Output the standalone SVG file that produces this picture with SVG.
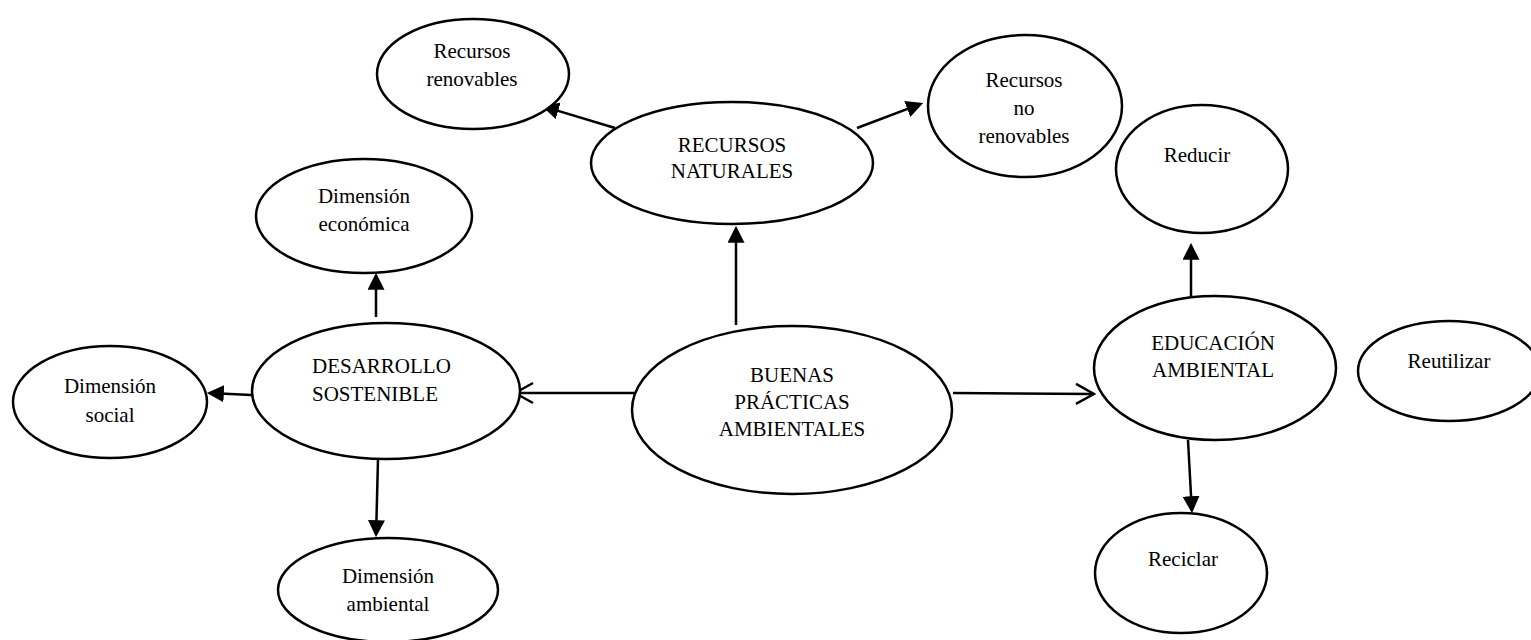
<svg xmlns="http://www.w3.org/2000/svg" width="1531" height="640" viewBox="0 0 1531 640">
<defs>
<style>
.node ellipse{fill:#fff;stroke:#000;stroke-width:2.5}
.node text{font-size:21px;fill:#000;text-anchor:middle}
.node text.left{text-anchor:start}
.conn path{fill:none;stroke:#000;stroke-width:2.5}
</style>
<marker id="fill" markerUnits="userSpaceOnUse" markerWidth="17" markerHeight="17" viewBox="0 0 16 16" refX="13" refY="8" orient="auto">
<path d="M0,0 L16,8 L0,16 Z" fill="#000"/>
</marker>
<marker id="open" markerUnits="userSpaceOnUse" markerWidth="22" markerHeight="24" viewBox="-2 -2 22 24" refX="18" refY="10" orient="auto">
<path d="M0,0 L18,10 L0,20" fill="none" stroke="#000" stroke-width="2.5"/>
</marker>
</defs>
<rect width="1531" height="640" fill="#fff"/>
<g id="connectors" class="conn">
<path d="M736,325 L736,229" marker-end="url(#fill)"/>
<path d="M615,128 L544.9,106.9" marker-end="url(#fill)"/>
<path d="M857,128 L920.2,104.1" marker-end="url(#fill)"/>
<path d="M640,393 L515,393" marker-end="url(#open)"/>
<path d="M953,393 L1094,394" marker-end="url(#open)"/>
<path d="M376,317 L376,276" marker-end="url(#fill)"/>
<path d="M251,395 L210,393.1" marker-end="url(#fill)"/>
<path d="M378,459 L376.1,534" marker-end="url(#fill)"/>
<path d="M1191,297 L1191,246" marker-end="url(#fill)"/>
<path d="M1188,440 L1191.8,510" marker-end="url(#fill)"/>
</g>
<g font-family="'Liberation Serif', 'Times New Roman', 'DejaVu Serif', serif">
<g id="buenas-practicas" class="node">
<ellipse cx="792" cy="410" rx="160" ry="84"/>
<text x="792" y="382">BUENAS</text>
<text x="792" y="409">PRÁCTICAS</text>
<text x="792" y="436">AMBIENTALES</text>
</g>
<g id="recursos-naturales" class="node">
<ellipse cx="732" cy="163" rx="141" ry="61"/>
<text x="732" y="152">RECURSOS</text>
<text x="732" y="178">NATURALES</text>
</g>
<g id="recursos-renovables" class="node">
<ellipse cx="473" cy="74" rx="96" ry="55"/>
<text x="472" y="58">Recursos</text>
<text x="472" y="86">renovables</text>
</g>
<g id="recursos-no-renovables" class="node">
<ellipse cx="1025" cy="106" rx="97" ry="71"/>
<text x="1024" y="87">Recursos</text>
<text x="1024" y="115">no</text>
<text x="1024" y="143">renovables</text>
</g>
<g id="desarrollo-sostenible" class="node">
<ellipse cx="386" cy="391" rx="134" ry="68"/>
<text class="left" x="312" y="373">DESARROLLO</text>
<text class="left" x="312" y="401">SOSTENIBLE</text>
</g>
<g id="dimension-economica" class="node">
<ellipse cx="364" cy="216" rx="108" ry="57"/>
<text x="364" y="203">Dimensión</text>
<text x="364" y="231">económica</text>
</g>
<g id="dimension-social" class="node">
<ellipse cx="110" cy="402" rx="97" ry="56"/>
<text x="110" y="393">Dimensión</text>
<text x="110" y="422">social</text>
</g>
<g id="dimension-ambiental" class="node">
<ellipse cx="388" cy="590" rx="110" ry="52"/>
<text x="388" y="583">Dimensión</text>
<text x="388" y="611">ambiental</text>
</g>
<g id="educacion-ambiental" class="node">
<ellipse cx="1215" cy="368" rx="121" ry="72"/>
<text x="1213" y="350">EDUCACIÓN</text>
<text x="1213" y="377">AMBIENTAL</text>
</g>
<g id="reducir" class="node">
<ellipse cx="1202" cy="169" rx="86" ry="64"/>
<text x="1197" y="162">Reducir</text>
</g>
<g id="reutilizar" class="node">
<ellipse cx="1449" cy="371" rx="91" ry="50"/>
<text x="1449" y="368">Reutilizar</text>
</g>
<g id="reciclar" class="node">
<ellipse cx="1181" cy="573" rx="86" ry="60"/>
<text x="1183" y="566">Reciclar</text>
</g>
</g>
</svg>
